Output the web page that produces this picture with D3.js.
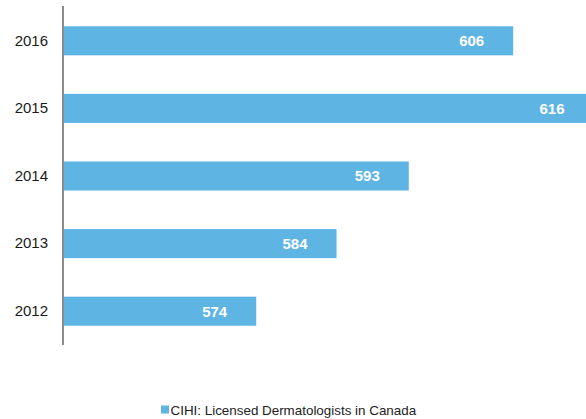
<!DOCTYPE html>
<html>
<head>
<meta charset="utf-8">
<script src="https://cdn.jsdelivr.net/npm/d3@7"></script>
<style>
  html, body { margin: 0; padding: 0; background: #fff; }
  svg { display: block; }
  text { font-family: "Liberation Sans", Arial, sans-serif; }
</style>
</head>
<body>
<svg id="chart" width="586" height="419"></svg>
<script>
const years = ["2016", "2015", "2014", "2013", "2012"];
const values = [606, 616, 593, 584, 574];
const seriesName = "CIHI: Licensed Dermatologists in Canada";

const svg = d3.select("#chart");
const barColor = "#5EB5E4";

const x = d3.scaleLinear().domain([550, 616]).range([63.5, 593.5]);
const y = d3.scaleBand().domain(years).range([7, 345]).paddingInner(0.57).paddingOuter(0.285);

svg.selectAll("rect.bar")
  .data(years)
  .enter().append("rect")
  .attr("class", "bar")
  .attr("x", x(550))
  .attr("y", d => y(d))
  .attr("width", (d, i) => x(values[i]) - x(550))
  .attr("height", y.bandwidth())
  .attr("fill", barColor);

svg.selectAll("text.val")
  .data(years)
  .enter().append("text")
  .attr("class", "val")
  .attr("x", (d, i) => x(values[i]) - 29)
  .attr("y", d => y(d) + y.bandwidth() / 2)
  .attr("dy", "0.36em")
  .attr("text-anchor", "end")
  .style("font-size", "15px")
  .style("font-weight", "bold")
  .attr("fill", "#fff")
  .text((d, i) => values[i]);

const yAxis = d3.axisLeft(y).tickSize(0).tickPadding(15);
const gy = svg.append("g").attr("transform", "translate(63,0)").call(yAxis);
gy.attr("font-family", null).attr("font-size", null);
gy.select(".domain").attr("stroke", "#8c8c8c").attr("stroke-width", 2).attr("d", "M0,6V345");
gy.selectAll("text").style("font-size", "15px").attr("fill", "#1a1a1a");

const lg = svg.append("g");
lg.append("rect").attr("x", 161).attr("y", 405.5).attr("width", 8).attr("height", 8).attr("fill", barColor);
lg.append("text").attr("x", 170.5).attr("y", 414.5)
  .style("font-size", "13.4px").attr("fill", "#222")
  .text(seriesName);
</script>
</body>
</html>
